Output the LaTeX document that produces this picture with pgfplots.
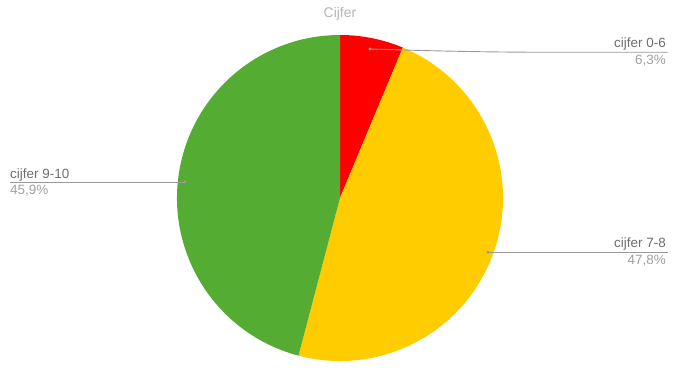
\documentclass[border=0pt]{standalone}
\usepackage{pgfplots}
\usepackage{pgfplotstable}
\pgfplotsset{compat=1.18}
\usepackage{fontspec}
\setmainfont{Liberation Sans}
\definecolor{pieRed}{HTML}{FF0000}
\definecolor{pieYellow}{HTML}{FFCC00}
\definecolor{pieGreen}{HTML}{55AC33}
\definecolor{lblDark}{HTML}{6E6E6E}
\definecolor{lblLight}{HTML}{A0A0A0}
\definecolor{leader}{HTML}{9A9A9A}
\definecolor{titleGray}{HTML}{B4B4B4}

\pgfplotstableread[col sep=comma]{
name,value
cijfer 0-6,6.3
cijfer 7-8,47.8
cijfer 9-10,45.9
}\piedata

\begin{document}%
\begin{tikzpicture}
\pgfplotstablegetelem{0}{value}\of\piedata \let\vA\pgfplotsretval
\pgfplotstablegetelem{1}{value}\of\piedata \let\vB\pgfplotsretval
\pgfplotstablegetelem{2}{value}\of\piedata \let\vC\pgfplotsretval
\pgfmathsetmacro\aA{90-3.6*\vA}
\pgfmathsetmacro\aB{\aA-3.6*\vB}
\pgfmathsetmacro\aC{\aB-3.6*\vC}
\begin{axis}[
  width=673bp, height=369bp, scale only axis,
  xmin=0, xmax=673, ymin=0, ymax=369,
  hide axis, clip=false,
]
% slices
\fill[pieRed] (axis cs:340,171) -- ++(90:163bp) arc[start angle=90, end angle=\aA, radius=163bp] -- cycle;
\fill[pieYellow] (axis cs:340,171) -- ++(\aA:163bp) arc[start angle=\aA, end angle=\aB, radius=163bp] -- cycle;
\fill[pieGreen] (axis cs:340,171) -- ++(\aB:163bp) arc[start angle=\aB, end angle=\aC, radius=163bp] -- cycle;
% leader lines
\draw[leader, line width=0.9bp] (axis cs:370,320) -- (axis cs:402,319) .. controls (axis cs:460,317.5) and (axis cs:500,316.7) .. (axis cs:560,316.7) -- (axis cs:668,316.7);
\fill[leader] (axis cs:370,320) circle[radius=1.6bp];
\draw[leader, line width=0.9bp] (axis cs:10,187) -- (axis cs:185,187);
\fill[leader] (axis cs:185,187) circle[radius=1.6bp];
\draw[leader, line width=0.9bp] (axis cs:488,116.7) -- (axis cs:668,116.7);
\fill[leader] (axis cs:488,116.7) circle[radius=1.6bp];
% labels
\node[anchor=base east, inner sep=0pt, text=lblDark, font=\fontsize{13.5}{15}\selectfont] at (axis cs:666,321) {cijfer 0-6};
\node[anchor=base east, inner sep=0pt, text=lblLight, font=\fontsize{13.5}{15}\selectfont] at (axis cs:666,304) {6,3\%};
\node[anchor=base west, inner sep=0pt, text=lblDark, font=\fontsize{13.5}{15}\selectfont] at (axis cs:10,190.5) {cijfer 9-10};
\node[anchor=base west, inner sep=0pt, text=lblLight, font=\fontsize{13.5}{15}\selectfont] at (axis cs:10,174) {45,9\%};
\node[anchor=base east, inner sep=0pt, text=lblDark, font=\fontsize{13.5}{15}\selectfont] at (axis cs:666,121) {cijfer 7-8};
\node[anchor=base east, inner sep=0pt, text=lblLight, font=\fontsize{13.5}{15}\selectfont] at (axis cs:666,104) {47,8\%};
% title
\node[anchor=base, inner sep=0pt, text=titleGray, font=\fontsize{14}{16}\selectfont] at (axis cs:340,351) {Cijfer};
\end{axis}
\pgfresetboundingbox
\path[use as bounding box] (current axis.south west) rectangle (current axis.north east);
\end{tikzpicture}%
\end{document}
